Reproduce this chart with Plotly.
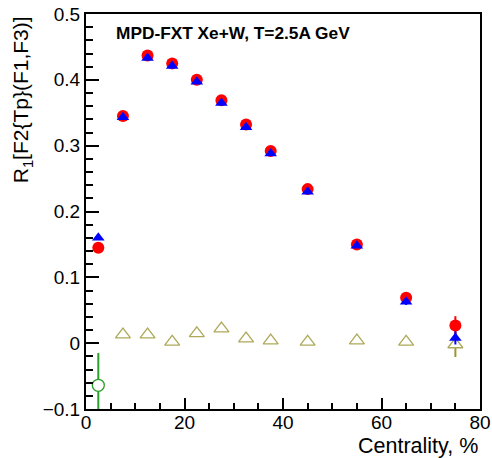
import plotly.graph_objects as go

# Centrality bin centres (%)
centrality = [2.5, 7.5, 12.5, 17.5, 22.5, 27.5, 32.5, 37.5, 45, 55, 65, 75]

# R1 correlator values per centrality bin
r1_red = [0.145, 0.345, 0.437, 0.425, 0.400, 0.369, 0.332, 0.292, 0.234, 0.150, 0.069, 0.027]
r1_red_err = [0.004, 0.002, 0.002, 0.002, 0.002, 0.002, 0.002, 0.002, 0.002, 0.003, 0.006, 0.014]

r1_blue = [0.160, 0.343, 0.433, 0.421, 0.397, 0.365, 0.328, 0.288, 0.230, 0.148, 0.063, 0.008]
r1_blue_err = [0.003, 0.002, 0.002, 0.002, 0.002, 0.002, 0.002, 0.002, 0.002, 0.003, 0.005, 0.010]

cent_open = [7.5, 12.5, 17.5, 22.5, 27.5, 32.5, 37.5, 45, 55, 65, 75]
r1_open_tri = [0.013, 0.013, 0.002, 0.015, 0.022, 0.007, 0.004, 0.002, 0.004, 0.002, -0.002]
r1_open_tri_err = [0.003, 0.003, 0.003, 0.003, 0.003, 0.003, 0.003, 0.003, 0.003, 0.005, 0.019]

cent_green = [2.5]
r1_green = [-0.064]
r1_green_err = [0.049]

FONT = "Liberation Sans, Arial, sans-serif"

fig = go.Figure()

# Open markers are white-filled so the error bar does not show through them
fig.add_trace(go.Scatter(
    x=cent_open, y=r1_open_tri, mode="markers",
    marker=dict(symbol="triangle-up", size=13, color="white",
                line=dict(width=1.3, color="#aea95a")),
    error_y=dict(type="data", array=r1_open_tri_err, color="#9a9630", thickness=2, width=0),
))
fig.add_trace(go.Scatter(
    x=cent_green, y=r1_green, mode="markers",
    marker=dict(symbol="circle", size=12, color="white",
                line=dict(width=1.3, color="#2aa02a")),
    error_y=dict(type="data", array=r1_green_err, color="#2aa02a", thickness=2, width=0),
))
fig.add_trace(go.Scatter(
    x=centrality, y=r1_red, mode="markers",
    marker=dict(symbol="circle", size=12, color="#ff0000"),
    error_y=dict(type="data", array=r1_red_err, color="#ff0000", thickness=2, width=0),
))
fig.add_trace(go.Scatter(
    x=centrality, y=r1_blue, mode="markers",
    marker=dict(symbol="triangle-up", size=11, color="#0000ff"),
    error_y=dict(type="data", array=r1_blue_err, color="#0000ff", thickness=2, width=0),
))

axis_common = dict(
    showline=True, linecolor="black", linewidth=2, mirror=True,
    ticks="inside", tickcolor="black", tickwidth=1.5,
    showgrid=False, zeroline=False, automargin=False,
    tickfont=dict(family=FONT, size=19, color="black"),
)

fig.update_xaxes(
    range=[0, 80], tickvals=[0, 20, 40, 60, 80], ticklen=11, ticklabelstandoff=-5,
    minor=dict(dtick=5, tick0=0, ticks="inside", ticklen=6, tickcolor="black", tickwidth=1.5),
    **axis_common,
)
fig.update_yaxes(
    range=[-0.1, 0.5], tickvals=[-0.1, 0, 0.1, 0.2, 0.3, 0.4, 0.5],
    ticktext=["\u22120.1", "0", "0.1", "0.2", "0.3", "0.4", "0.5"], ticklen=13,
    minor=dict(dtick=0.02, tick0=0, ticks="inside", ticklen=7, tickcolor="black", tickwidth=1.5),
    **axis_common,
)

fig.add_annotation(
    text="<b>MPD-FXT Xe+W, T=2.5A GeV</b>", xref="paper", yref="paper",
    x=0.07, y=0.952, xanchor="left", yanchor="middle", showarrow=False,
    font=dict(family=FONT, size=17.3, color="black"),
)
fig.add_annotation(
    text="Centrality, %", xref="paper", yref="paper",
    x=1.0, y=-0.093, xanchor="right", yanchor="middle", showarrow=False,
    font=dict(family=FONT, size=21.5, color="black"),
)
fig.add_annotation(
    text="R<sub>1</sub>[F2{Tp}(F1,F3)]", xref="paper", yref="paper",
    x=-0.163, y=1.0, xanchor="center", yanchor="top", textangle=-90, showarrow=False,
    font=dict(family=FONT, size=21, color="black"),
)

fig.update_layout(
    width=492, height=458,
    margin=dict(l=86, r=12, t=14, b=49),
    plot_bgcolor="white", paper_bgcolor="white",
    showlegend=False,
)

fig.write_html("out.html")
